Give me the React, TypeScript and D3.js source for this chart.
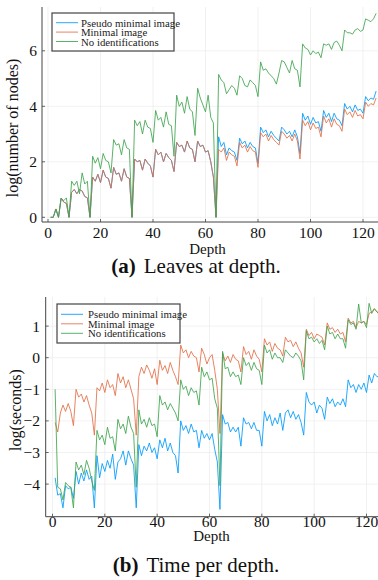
import React from "react";
import * as d3 from "d3";

// ---------- DATA ----------
const seriesNames = ["Pseudo minimal image", "Minimal image", "No identifications"];
const xTicks = [0, 20, 40, 60, 80, 100, 120];
const yTicksA = [0, 2, 4, 6];
const yTicksB = [-4, -3, -2, -1, 0, 1];

// Panel (a): log(number of nodes), depth 1..125
const leavesPseudo = [
  0, 0, 0.3, 0, 0.69, 0.55, 0.5, 0,
  0.9, 1.0, 0.85, 1.0, 0.95, 0.75, 0.7, 0,
  1.45, 1.3, 1.55, 1.25, 1.7, 1.45, 1.4, 1.05, 1.8, 1.55, 1.6, 1.3, 1.75, 1.45, 1.4, 0,
  2.1, 2.0, 2.05, 1.7, 2.1, 1.95, 1.85, 1.45, 2.45, 2.25, 2.35, 2.0, 2.3, 2.15, 2.05, 1.65,
  2.7, 2.55, 2.6, 2.35, 2.75, 2.5, 2.45, 2.0, 2.75, 2.55, 2.6, 2.35, 2.4, 2.0, 1.45, 0,
  2.9, 2.55, 2.7, 2.25, 2.5, 2.4, 2.35, 2.05, 2.85, 2.65, 2.75, 2.5, 2.7, 2.55, 2.5, 1.95,
  3.25, 3.05, 3.15, 2.9, 3.1, 2.95, 2.85, 2.75, 3.25, 3.15, 3.0, 3.1, 2.9, 3.15, 2.9, 2.3,
  3.75, 3.5, 3.65, 3.35, 3.6, 3.4, 3.45, 3.1, 3.85, 3.6, 3.75, 3.45, 3.75, 3.55, 3.5, 3.3,
  4.1, 3.9, 4.0, 3.8, 4.05, 3.85, 3.9, 3.75, 4.35, 4.2, 4.3, 4.25, 4.55,
];
const leavesMinimal = [
  0, 0, 0.3, 0, 0.69, 0.55, 0.5, 0,
  0.9, 1.0, 0.85, 1.0, 0.95, 0.75, 0.7, 0,
  1.45, 1.3, 1.55, 1.25, 1.7, 1.45, 1.4, 1.05, 1.8, 1.55, 1.6, 1.3, 1.75, 1.45, 1.4, 0,
  2.1, 2.0, 2.05, 1.7, 2.1, 1.95, 1.85, 1.45, 2.45, 2.25, 2.35, 2.0, 2.3, 2.15, 2.05, 1.65,
  2.7, 2.55, 2.6, 2.35, 2.75, 2.5, 2.45, 2.0, 2.75, 2.55, 2.6, 2.35, 2.4, 2.0, 1.45, 0,
  2.45, 2.35, 2.5, 2.05, 2.35, 2.25, 2.2, 1.85, 2.7, 2.5, 2.6, 2.35, 2.55, 2.4, 2.35, 1.8,
  3.05, 2.9, 3.0, 2.75, 2.95, 2.8, 2.7, 2.6, 3.1, 3.0, 2.85, 2.95, 2.75, 3.0, 2.75, 2.1,
  3.5, 3.3, 3.45, 3.15, 3.4, 3.2, 3.25, 2.9, 3.65, 3.4, 3.55, 3.25, 3.55, 3.35, 3.3, 3.1,
  3.9, 3.7, 3.8, 3.6, 3.85, 3.65, 3.7, 3.55, 4.15, 4.0, 4.1, 4.05, 4.3,
];
const leavesNoId = [
  0, 0, 0.3, 0, 0.69, 0.6, 0.7, 0,
  1.3, 1.15, 1.3, 0.85, 1.6, 1.2, 1.3, 0,
  2.2, 1.95, 2.15, 1.75, 2.3, 2.05, 2.0, 1.6, 2.8, 2.6, 2.65, 2.25, 2.8, 2.5, 2.45, 0,
  3.5, 3.3, 3.45, 3.0, 3.5, 3.25, 3.2, 2.7, 3.85, 3.5, 3.6, 3.25, 3.8, 3.35, 3.3, 2.2,
  4.4, 4.0, 4.15, 3.75, 4.35, 3.9, 3.8, 2.95, 4.65, 4.3, 4.05, 3.8, 4.4, 3.6, 3.4, 0,
  5.15, 4.95, 4.85, 4.45, 4.6, 4.75, 4.65, 4.4, 5.1, 5.0, 4.75, 4.7, 4.95, 4.85, 4.75, 4.35,
  5.6, 5.3, 5.35, 5.2, 5.1, 5.0, 4.8, 5.2, 5.65, 5.6, 5.4, 5.2, 5.65, 5.35, 5.3, 4.7,
  6.25, 6.1, 6.05, 5.85, 6.0, 5.9, 5.95, 5.75, 6.25, 6.2, 6.25, 6.05, 6.3, 6.35, 6.2, 6.0,
  6.75, 6.65, 6.65, 6.6, 6.75, 6.8, 6.7, 6.75, 7.15, 7.1, 7.05, 7.15, 7.35,
];

// Panel (b): log(seconds), depth 1..125
const timePseudo = [
  -3.8, -4.35, -4.3, -4.75, -4.05, -4.15, -4.1, -4.45,
  -3.6, -4.0, -3.65, -3.9, -3.55, -3.85, -3.75, -4.75,
  -3.1, -3.8, -3.35, -3.6, -3.25, -3.5, -3.05, -3.85, -3.3, -3.2, -2.95, -3.4, -2.95, -3.2, -3.4, -4.75,
  -2.75, -3.1, -2.8, -2.95, -2.7, -3.0, -2.85, -3.2, -2.6, -2.85, -2.55, -2.95, -2.7, -3.0, -3.1, -3.65,
  -2.0, -2.3, -2.15, -2.4, -2.1, -2.35, -2.3, -2.85, -2.3, -2.55, -2.4, -2.6, -2.4, -2.9, -3.3, -4.8,
  -1.8, -2.1, -2.05, -2.35, -2.2, -2.35, -2.2, -2.8, -1.9, -2.1, -2.05, -2.25, -2.05, -2.3, -2.3, -2.8,
  -1.7, -2.0, -1.8, -2.15, -1.9, -2.1, -1.75, -2.3, -1.75, -1.65, -1.9, -1.7, -1.95, -1.8, -2.05, -2.45,
  -1.1, -1.4, -1.5, -1.4, -1.75, -1.5, -1.6, -1.95, -1.25, -1.45, -1.3, -1.55, -1.4, -1.5, -1.3, -1.55,
  -0.7, -0.95, -0.85, -1.1, -0.85, -1.0, -0.8, -1.1, -0.55, -0.8, -0.5, -0.6, -0.6,
];
const timeMinimal = [
  -2.05, -2.35, -1.75, -1.5, -1.7, -1.45, -1.7, -2.15,
  -1.0, -1.25, -1.15, -1.4, -1.2, -1.5, -1.75, -2.45,
  -0.95, -1.05, -0.8, -1.1, -0.7, -0.95, -0.85, -1.2, -0.5, -0.8, -0.6, -0.95, -0.7, -1.0, -1.3, -2.45,
  -0.6, -0.3, -0.5, -0.23, -0.4, -0.65, -0.35, -0.85, -0.08, -0.4, -0.25, -0.5, -0.15, -0.4, -0.6, -0.85,
  0.4, 0.15, 0.25, 0.0, 0.2, 0.05, 0.0, -0.45, 0.3, 0.1, -0.2, 0.0, 0.1, -0.4, -1.0, -2.4,
  0.15, -0.1, 0.05, -0.15, 0.1, -0.05, -0.1, -0.45, 0.35, 0.1, 0.2, -0.05, 0.25, 0.05, -0.05, -0.45,
  0.6, 0.4, 0.5, 0.2, 0.45, 0.3, 0.25, 0.05, 0.65, 0.5, 0.55, 0.35, 0.5, 0.3, 0.15, -0.3,
  0.9, 0.7, 0.8, 0.6, 0.75, 0.7, 0.65, 0.4, 1.1, 0.9, 0.95, 0.8, 0.9, 0.75, 0.8, 0.5,
  1.25, 1.1, 1.15, 0.95, 1.15, 1.1, 1.15, 1.05, 1.4, 1.45, 1.55, 1.45, 1.35,
];
const timeNoId = [
  -1.0, -4.1, -4.15, -4.5, -3.95, -4.05, -4.1, -4.75,
  -3.3, -3.55, -3.4, -3.7, -3.25, -3.5, -3.9, -4.2,
  -2.3, -2.6, -2.45, -2.75, -2.2, -2.55, -2.5, -2.95, -1.95, -2.25, -2.1, -2.4, -1.85, -2.2, -2.4, -4.1,
  -1.65, -2.1, -1.95, -2.2, -1.9, -2.15, -2.1, -2.5, -1.2, -1.5, -1.4, -1.65, -1.45, -1.6, -1.75, -2.0,
  -0.7, -1.0, -0.9, -1.2, -0.95, -1.1, -1.05, -1.5, -0.3, -0.6, -0.45, -0.7, -0.65, -1.3, -1.6, -4.05,
  0.2, -0.35, -0.3, -0.6, -0.45, -0.6, -0.55, -0.85, 0.0, -0.25, -0.15, -0.4, -0.15, -0.35, -0.4, -0.85,
  0.4, 0.15, 0.25, -0.05, 0.15, 0.0, 0.0, -0.15, 0.25, 0.15, 0.05, 0.0, 0.15, 0.05, -0.1, -0.7,
  0.85, 0.6, 0.65, 0.5, 0.6, 0.45, 0.55, 0.25, 1.0, 0.75, 0.8, 0.6, 0.75, 0.6, 0.6, 0.3,
  1.2, 1.05, 1.1, 0.9, 1.7, 1.1, 1.15, 0.95, 1.72, 1.4, 1.55, 1.45, 1.4,
];

const colors = ["#009AFA", "#E36F47", "#3EA44E"];
const FONT = "'Liberation Serif', 'DejaVu Serif', serif";

type PanelProps = {
  series: number[][];
  yTicks: number[];
  yTickDomain: [number, number];
  yTickRange: [number, number];
  xRange: [number, number];
  axisLeft: number;
  axisBottom: number;
  plotTop: number;
  yLabel: string;
  yLabelX: number;
  yLabelY: number;
  yTickRight: number;
  xTickY: number;
  xLabelY: number;
  captionY: number;
  captionTag: string;
  captionText: string;
  legend: { x: number; y: number; w: number; h: number; row0: number; dy: number; textX: number };
};

function fmt(v: number) {
  return v < 0 ? "\u2212" + Math.abs(v) : String(v);
}

function Panel(p: PanelProps) {
  const x = d3.scaleLinear().domain([0, 120]).range(p.xRange);
  const y = d3.scaleLinear().domain(p.yTickDomain).range(p.yTickRange);
  const right = 378;
  const line = d3
    .line<number>()
    .x((_, i) => x(i + 1))
    .y((v) => y(v));
  return (
    <g>
      {/* grid */}
      {xTicks.map((t) => (
        <line key={"gx" + t} x1={x(t)} x2={x(t)} y1={p.plotTop} y2={p.axisBottom} stroke="#e8e8e8" strokeWidth={0.6} />
      ))}
      {p.yTicks.map((t) => (
        <line key={"gy" + t} x1={p.axisLeft} x2={right} y1={y(t)} y2={y(t)} stroke="#e8e8e8" strokeWidth={0.6} />
      ))}
      {/* series */}
      {p.series.map((s, k) => (
        <path key={"s" + k} d={line(s) || ""} fill="none" stroke={colors[k]} strokeOpacity={0.85} strokeWidth={1} strokeLinejoin="round" />
      ))}
      {/* axes */}
      <line x1={p.axisLeft} x2={right} y1={p.axisBottom} y2={p.axisBottom} stroke="#444" strokeWidth={1} />
      <line x1={p.axisLeft} x2={p.axisLeft} y1={p.plotTop} y2={p.axisBottom} stroke="#444" strokeWidth={1} />
      {xTicks.map((t) => (
        <g key={"tx" + t}>
          <line x1={x(t)} x2={x(t)} y1={p.axisBottom} y2={p.axisBottom - 3} stroke="#444" strokeWidth={0.8} />
          <text x={x(t)} y={p.xTickY} fontSize={15.5} fontFamily={FONT} textAnchor="middle" dominantBaseline="central" fill="#111">
            {fmt(t)}
          </text>
        </g>
      ))}
      {p.yTicks.map((t) => (
        <g key={"ty" + t}>
          <line x1={p.axisLeft} x2={p.axisLeft + 3} y1={y(t)} y2={y(t)} stroke="#444" strokeWidth={0.8} />
          <text x={p.yTickRight} y={y(t)} fontSize={15.5} fontFamily={FONT} textAnchor="end" dominantBaseline="central" fill="#111">
            {fmt(t)}
          </text>
        </g>
      ))}
      <text x={(x(0) + x(120)) / 2 + 2} y={p.xLabelY} fontSize={15} fontFamily={FONT} textAnchor="middle" dominantBaseline="central" fill="#111">
        Depth
      </text>
      <text
        transform={`translate(${p.yLabelX},${p.yLabelY}) rotate(-90)`}
        fontSize={16}
        fontFamily={FONT}
        textAnchor="middle"
        dominantBaseline="central"
        fill="#111"
      >
        {p.yLabel}
      </text>
      {/* legend */}
      <rect x={p.legend.x} y={p.legend.y} width={p.legend.w} height={p.legend.h} fill="#fff" stroke="#444" strokeWidth={1.2} />
      {seriesNames.map((n, k) => {
        const ry = p.legend.y + p.legend.row0 + p.legend.dy * k;
        return (
          <g key={"l" + k}>
            <line x1={p.legend.x + 4} x2={p.legend.x + 26} y1={ry} y2={ry} stroke={colors[k]} strokeOpacity={0.85} strokeWidth={1} />
            <text x={p.legend.x + p.legend.textX} y={ry} fontSize={10.8} fontFamily={FONT} dominantBaseline="central" fill="#222">
              {n}
            </text>
          </g>
        );
      })}
      {/* caption */}
      <text x={196} y={p.captionY} fontSize={21} fontFamily={FONT} textAnchor="middle" dominantBaseline="central" fill="#111">
        <tspan fontWeight="bold">{p.captionTag}</tspan>
        <tspan dx={8}>{p.captionText}</tspan>
      </text>
    </g>
  );
}

export default function App() {
  return (
    <svg width={378} height={580} style={{ position: "absolute", left: 0, top: 0, background: "#fff" }}>
      <Panel
        series={[leavesPseudo, leavesMinimal, leavesNoId]}
        yTicks={yTicksA}
        yTickDomain={[0, 6]}
        yTickRange={[217.3, 50.8]}
        xRange={[48, 363]}
        axisLeft={42}
        axisBottom={222}
        plotTop={7}
        yLabel="log(number of nodes)"
        yLabelX={12}
        yLabelY={128}
        yTickRight={37}
        xTickY={232}
        xLabelY={248.5}
        captionY={266}
        captionTag="(a)"
        captionText="Leaves at depth."
        legend={{ x: 52, y: 13, w: 122, h: 38, row0: 9.7, dy: 9.4, textX: 29 }}
      />
      <Panel
        series={[timePseudo, timeMinimal, timeNoId]}
        yTicks={yTicksB}
        yTickDomain={[-4, 1]}
        yTickRange={[484.1, 326.1]}
        xRange={[52.5, 366.5]}
        axisLeft={45.7}
        axisBottom={516.7}
        plotTop={297}
        yLabel="log(seconds)"
        yLabelX={15}
        yLabelY={410}
        yTickRight={40}
        xTickY={521.5}
        xLabelY={536}
        captionY={565}
        captionTag="(b)"
        captionText="Time per depth."
        legend={{ x: 57, y: 304, w: 123, h: 39, row0: 10.3, dy: 9.5, textX: 31 }}
      />
    </svg>
  );
}
